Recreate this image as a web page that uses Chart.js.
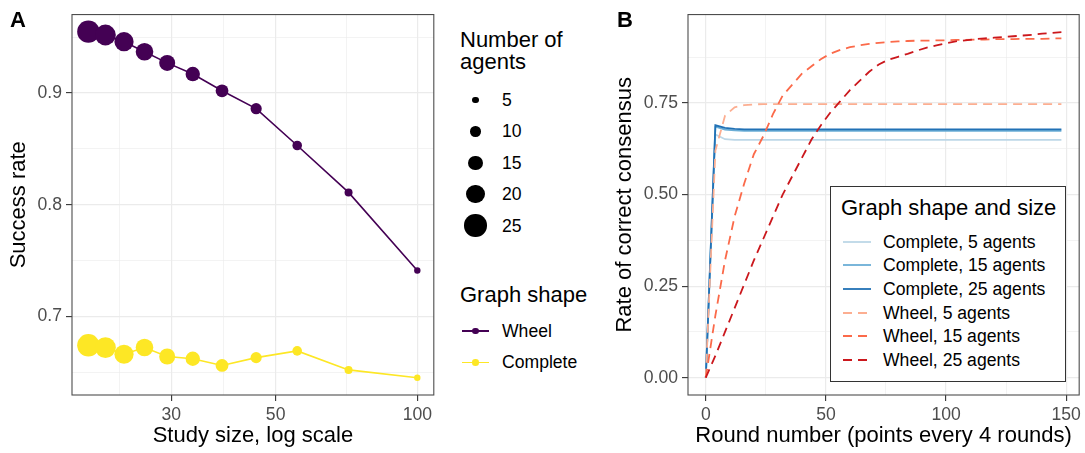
<!DOCTYPE html>
<html>
<head>
<meta charset="utf-8">
<script src="https://cdn.jsdelivr.net/npm/chart.js@4.4.1/dist/chart.umd.min.js"></script>
<style>
  body { margin: 0; background: #fff; font-family: "Liberation Sans", Arial, sans-serif; }
  #wrap { position: relative; width: 1085px; height: 453px; overflow: hidden; }
  canvas { position: absolute; top: 0; }
  #chartA { left: 0; }
  #chartB { left: 596px; }
  .tag { position: absolute; top: 9px; font-weight: bold; font-size: 22px; line-height: 22px; }
  .ltitle { position: absolute; font-size: 22px; line-height: 21.5px; white-space: nowrap; }
  .lab { position: absolute; font-size: 17.6px; line-height: 24px; height: 24px; white-space: nowrap; }
  .dot { position: absolute; border-radius: 50%; }
  #legB { position: absolute; left: 830px; top: 186px; width: 234px; height: 194px;
          border: 1px solid #333; background: #fff; }
  #legB svg { position: absolute; }
</style>
</head>
<body>
<div id="wrap">
  <canvas id="chartA" width="445" height="453"></canvas>
  <canvas id="chartB" width="489" height="453"></canvas>
  <div class="tag" style="left:10px">A</div>
  <div class="tag" style="left:617px">B</div>
  <div id="legA"></div>
  <div id="legB"><div class="ltitle" style="left:10px;top:10px">Graph shape and size</div></div>
</div>
<script>
// panel A: success rate by study size
const agents = [25, 23, 21, 19, 17, 15, 13, 11, 9, 7, 5];
const studySize = [20, 21.74, 23.81, 26.32, 29.41, 33.33, 38.46, 45.45, 55.56, 71.43, 100];
const wheelRate = [0.955, 0.952, 0.946, 0.937, 0.927, 0.917, 0.902, 0.886, 0.853, 0.811, 0.741];
const completeRate = [0.674, 0.672, 0.666, 0.672, 0.664, 0.662, 0.656, 0.663, 0.669, 0.652, 0.645];
const xMajorA = [30, 50, 100];
const xMinorA = [23.24, 38.73, 70.71];
const yMajorA = [0.7, 0.8, 0.9];
const yMinorA = [0.65, 0.75, 0.85, 0.95];
const agentLegend = [5, 10, 15, 20, 25];

// panel B: consensus over rounds
const rounds = [0, 4, 8, 12, 16, 20, 24, 28, 32, 36, 40, 44, 48, 52, 56, 60, 64, 68, 72, 76,
  80, 84, 88, 92, 96, 100, 104, 108, 112, 116, 120, 124, 128, 132, 136, 140, 144, 148];
const complete5 = [0, 0.664, 0.651, 0.649, 0.649, 0.649, 0.649, 0.649, 0.649, 0.649,
  0.649, 0.649, 0.649, 0.649, 0.649, 0.649, 0.649, 0.649, 0.649, 0.649,
  0.649, 0.649, 0.649, 0.649, 0.649, 0.649, 0.649, 0.649, 0.649, 0.649,
  0.649, 0.649, 0.649, 0.649, 0.649, 0.649, 0.649, 0.649];
const complete15 = [0, 0.685, 0.677, 0.675, 0.674, 0.674, 0.674, 0.674, 0.674, 0.674,
  0.674, 0.674, 0.674, 0.674, 0.674, 0.674, 0.674, 0.674, 0.674, 0.674,
  0.674, 0.674, 0.674, 0.674, 0.674, 0.674, 0.674, 0.674, 0.674, 0.674,
  0.674, 0.674, 0.674, 0.674, 0.674, 0.674, 0.674, 0.674];
const complete25 = [0, 0.689, 0.682, 0.679, 0.678, 0.678, 0.678, 0.678, 0.678, 0.678,
  0.678, 0.678, 0.678, 0.678, 0.678, 0.678, 0.678, 0.678, 0.678, 0.678,
  0.678, 0.678, 0.678, 0.678, 0.678, 0.678, 0.678, 0.678, 0.678, 0.678,
  0.678, 0.678, 0.678, 0.678, 0.678, 0.678, 0.678, 0.678];
const wheel5 = [0, 0.62, 0.715, 0.738, 0.744, 0.746, 0.747, 0.747, 0.747, 0.747,
  0.747, 0.747, 0.747, 0.747, 0.747, 0.747, 0.747, 0.747, 0.747, 0.747,
  0.747, 0.747, 0.747, 0.747, 0.747, 0.747, 0.747, 0.747, 0.747, 0.747,
  0.747, 0.747, 0.747, 0.747, 0.747, 0.747, 0.747, 0.747];
const wheel15 = [0, 0.17, 0.32, 0.44, 0.53, 0.61, 0.66, 0.72, 0.77, 0.80,
  0.83, 0.85, 0.87, 0.885, 0.895, 0.902, 0.907, 0.911, 0.914, 0.916,
  0.918, 0.919, 0.92, 0.92, 0.921, 0.921, 0.922, 0.922, 0.923, 0.923,
  0.924, 0.924, 0.924, 0.925, 0.925, 0.925, 0.926, 0.926];
const wheel25 = [0, 0.06, 0.125, 0.19, 0.255, 0.32, 0.38, 0.44, 0.50, 0.55,
  0.60, 0.65, 0.69, 0.725, 0.755, 0.785, 0.81, 0.835, 0.855, 0.868,
  0.876, 0.884, 0.893, 0.901, 0.907, 0.913, 0.918, 0.921, 0.924, 0.926,
  0.928, 0.93, 0.932, 0.934, 0.936, 0.939, 0.941, 0.943];
const xMajorB = [0, 50, 100, 150];
const xMinorB = [25, 75, 125];
const yMajorB = [0, 0.25, 0.5, 0.75];
const yMinorB = [0.125, 0.375, 0.625, 0.875];

const FONT = '"Liberation Sans", Arial, sans-serif';
Chart.defaults.font.family = FONT;
Chart.defaults.animation = false;

const dotRadius = n => 1.2 + 0.4 * n;
const has = (arr, v) => arr.some(a => Math.abs(a - v) < 1e-9);

// ggplot-like panel border
const panelBorder = {
  id: 'panelBorder',
  afterDraw(chart) {
    const {ctx, chartArea: a} = chart;
    ctx.save();
    ctx.strokeStyle = '#4d4d4d';
    ctx.lineWidth = 1.1;
    ctx.strokeRect(a.left, a.top, a.right - a.left, a.bottom - a.top);
    ctx.restore();
  }
};

function axis(major, minor, min, max, title, fmt, fit, titlePad) {
  return {
    min, max,
    afterBuildTicks: s => { s.ticks = major.concat(minor).sort((a, b) => a - b).map(v => ({value: v})); },
    afterFit: fit,
    ticks: {
      autoSkip: false, maxRotation: 0, padding: 4, color: '#4d4d4d',
      font: {size: 17.6},
      callback: v => has(major, v) ? fmt(v) : ''
    },
    grid: {
      color: '#ebebeb',
      lineWidth: c => has(major, c.tick.value) ? 1.2 : 0.6,
      tickLength: 6,
      tickWidth: 1.1,
      tickColor: c => has(major, c.tick.value) ? '#333333' : 'rgba(0,0,0,0)'
    },
    border: {display: false},
    title: {display: true, text: title, color: '#000', font: {size: 22}, padding: titlePad}
  };
}

const chartA = new Chart(document.getElementById('chartA'), {
  type: 'line',
  data: {
    datasets: [
      {
        label: 'Wheel',
        data: studySize.map((x, i) => ({x, y: wheelRate[i]})),
        borderColor: '#440154', backgroundColor: '#440154', borderWidth: 1.6,
        pointRadius: c => dotRadius(agents[c.dataIndex]), pointBorderWidth: 0
      },
      {
        label: 'Complete',
        data: studySize.map((x, i) => ({x, y: completeRate[i]})),
        borderColor: '#FDE725', backgroundColor: '#FDE725', borderWidth: 1.6,
        pointRadius: c => dotRadius(agents[c.dataIndex]), pointBorderWidth: 0
      }
    ]
  },
  options: {
    responsive: false,
    events: [],
    layout: {padding: {top: 10, right: 7, left: 0, bottom: 0}},
    plugins: {legend: {display: false}, tooltip: {enabled: false}},
    scales: {
      x: Object.assign(axis(xMajorA, xMinorA, 18.46, 108.4, 'Study size, log scale', v => String(v),
        s => { s.height = 58; }, {top: 0, bottom: 4}), {type: 'logarithmic'}),
      y: Object.assign(axis(yMajorA, yMinorA, 0.6295, 0.9703, 'Success rate', v => v.toFixed(1),
        s => { s.width = 72; }, {top: 6, bottom: 0}), {type: 'linear'})
    }
  },
  plugins: [panelBorder]
});

const seriesB = [
  {label: 'Complete, 5 agents', data: complete5, color: '#BDD7E7', dash: []},
  {label: 'Complete, 15 agents', data: complete15, color: '#6BAED6', dash: []},
  {label: 'Complete, 25 agents', data: complete25, color: '#2171B5', dash: []},
  {label: 'Wheel, 5 agents', data: wheel5, color: '#FCAE91', dash: [9, 6]},
  {label: 'Wheel, 15 agents', data: wheel15, color: '#FB6A4A', dash: [9, 6]},
  {label: 'Wheel, 25 agents', data: wheel25, color: '#CB181D', dash: [9, 6]}
];

const chartB = new Chart(document.getElementById('chartB'), {
  type: 'line',
  data: {
    datasets: seriesB.map((s, i) => ({
      label: s.label,
      data: rounds.map((r, j) => ({x: r, y: s.data[j]})),
      borderColor: s.color, borderDash: s.dash, borderWidth: 1.8,
      pointRadius: 0, order: seriesB.length - i
    }))
  },
  options: {
    responsive: false,
    events: [],
    layout: {padding: {top: 10, right: 3.5, left: 0, bottom: 0}},
    plugins: {legend: {display: false}, tooltip: {enabled: false}},
    scales: {
      x: Object.assign(axis(xMajorB, xMinorB, -7.4, 155.4, 'Round number (points every 4 rounds)', v => String(v),
        s => { s.height = 58; }, {top: 0, bottom: 4}), {type: 'linear'}),
      y: Object.assign(axis(yMajorB, yMinorB, -0.0472, 0.9912, 'Rate of correct consensus', v => v.toFixed(2),
        s => { s.width = 92; }, {top: 16, bottom: 0}), {type: 'linear'})
    }
  },
  plugins: [panelBorder]
});

// legend for panel A (size and colour guides)
const legA = document.getElementById('legA');
function el(cls, css, html) {
  const d = document.createElement('div');
  d.className = cls;
  d.style.cssText = css;
  if (html !== undefined) d.innerHTML = html;
  legA.appendChild(d);
  return d;
}
el('ltitle', 'left:460px;top:29px', 'Number of<br>agents');
agentLegend.forEach((n, i) => {
  const cy = 100 + i * 31.4, r = dotRadius(n);
  el('dot', `left:${475.5 - r}px;top:${cy - r}px;width:${2 * r}px;height:${2 * r}px;background:#000`);
  el('lab', `left:502px;top:${cy - 12}px`, String(n));
});
el('ltitle', 'left:460px;top:284px', 'Graph shape');
chartA.data.datasets.forEach((d, i) => {
  const cy = 331 + i * 31.4, r = 3.3;
  el('dot', `left:462px;top:${cy - 0.8}px;width:27px;height:1.6px;border-radius:0;background:${d.borderColor}`);
  el('dot', `left:${475.5 - r}px;top:${cy - r}px;width:${2 * r}px;height:${2 * r}px;background:${d.borderColor}`);
  el('lab', `left:502px;top:${cy - 12}px`, d.label);
});

// legend for panel B, drawn from the chart's datasets
const legB = document.getElementById('legB');
chartB.data.datasets.forEach((d, i) => {
  const cy = 54.7 + i * 23.65;
  const svg = document.createElementNS('http://www.w3.org/2000/svg', 'svg');
  svg.setAttribute('width', '28');
  svg.setAttribute('height', '6');
  svg.style.left = '12px';
  svg.style.top = (cy - 3) + 'px';
  svg.innerHTML = `<line x1="0" y1="3" x2="28" y2="3" stroke="${d.borderColor}" stroke-width="1.8" stroke-dasharray="${d.borderDash.length ? d.borderDash.join(' ') : 'none'}"/>`;
  legB.appendChild(svg);
  const lab = document.createElement('div');
  lab.className = 'lab';
  lab.style.left = '52px';
  lab.style.top = (cy - 12) + 'px';
  lab.textContent = d.label;
  legB.appendChild(lab);
});
</script>
</body>
</html>
